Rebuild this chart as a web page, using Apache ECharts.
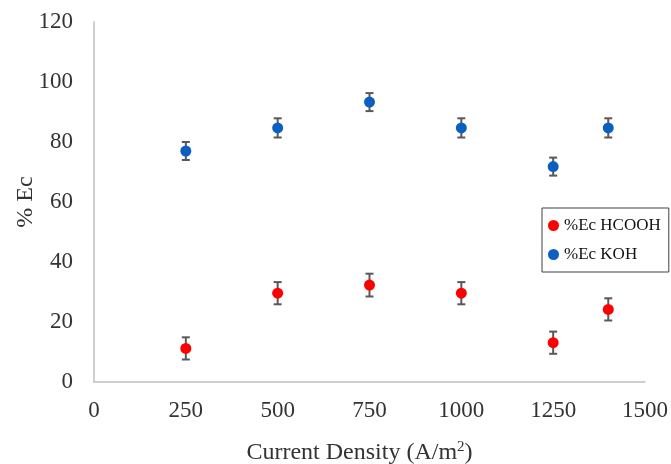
<!DOCTYPE html>
<html><head><meta charset="utf-8">
<script src="https://cdn.jsdelivr.net/npm/echarts@6/dist/echarts.min.js"></script>
<style>html,body{margin:0;padding:0;background:#fff}#c{width:671px;height:464px}</style>
</head><body><div id="c"></div>
<script>
const xValues = [250, 500, 750, 1000, 1250, 1400];
const hcoohValues = [11.2, 29.6, 32.3, 29.6, 13.1, 24.2];
const hcoohErr = [3.7, 3.7, 3.8, 3.7, 3.7, 3.7];
const kohValues = [77.0, 84.7, 93.3, 84.7, 71.8, 84.7];
const kohErr = [3.0, 3.2, 3.0, 3.2, 3.0, 3.2];
const seriesNames = ['%Ec HCOOH', '%Ec KOH'];

const font = 'Liberation Serif';
function pts(vals){ return xValues.map((x,i)=>[x, vals[i]]); }
function errData(vals, errs){ return xValues.map((x,i)=>[x, vals[i]-errs[i], vals[i]+errs[i]]); }
function errSeries(vals, errs){
  return {
    type: 'custom', silent: true, z: 1,
    data: errData(vals, errs),
    renderItem: function(params, api){
      const x = api.value(0);
      const lo = api.coord([x, api.value(1)]);
      const hi = api.coord([x, api.value(2)]);
      const w = 4;
      const st = {stroke:'#595959', lineWidth:2, fill:null};
      return {type:'group', children:[
        {type:'line', shape:{x1:lo[0],y1:lo[1],x2:hi[0],y2:hi[1]}, style:st},
        {type:'line', shape:{x1:lo[0]-w,y1:lo[1],x2:lo[0]+w,y2:lo[1]}, style:st},
        {type:'line', shape:{x1:hi[0]-w,y1:hi[1],x2:hi[0]+w,y2:hi[1]}, style:st}
      ]};
    }
  };
}
const chart = echarts.init(document.getElementById('c'));
chart.setOption({
  animation: false,
  textStyle: {fontFamily: font},
  grid: {left: 94, right: 26, top: 22, bottom: 82, outerBoundsMode: 'none', containLabel: false},
  legend: {
    data: seriesNames, orient: 'vertical', left: 542, top: 208,
    backgroundColor: '#fff',
    borderColor: '#404040', borderWidth: 1, padding: [9, 8, 9, 6],
    itemGap: 12, itemWidth: 11, itemHeight: 11, icon: 'circle',
    textStyle: {fontFamily: font, fontSize: 17, color: '#111'}
  },
  xAxis: {
    type: 'value', min: 0, max: 1500, interval: 250,
    name: 'Current Density (A/m{sup|2})', nameLocation: 'middle', nameGap: 58,
    nameTextStyle: {fontFamily: font, fontSize: 24, color: '#333', padding: [0, 20, 0, 0],
      rich:{sup:{fontSize:15, verticalAlign:'top', padding:[0,0,10,0], fontFamily:font, color:'#333'}}},
    axisLine: {lineStyle: {color: '#bfbfbf', width: 1.5}},
    axisTick: {show: false}, splitLine: {show: false},
    axisLabel: {fontFamily: font, fontSize: 23, color: '#333', margin: 17, formatter: v => String(v)}
  },
  yAxis: {
    type: 'value', min: 0, max: 120, interval: 20,
    name: '% Ec', nameLocation: 'middle', nameGap: 56, nameRotate: 90, nameMoveOverlap: false,
    nameTextStyle: {fontFamily: font, fontSize: 24, color: '#333'},
    axisLine: {show: true, lineStyle: {color: '#bfbfbf', width: 1.5}},
    axisTick: {show: false}, splitLine: {show: false},
    axisLabel: {fontFamily: font, fontSize: 23, color: '#333', margin: 21, formatter: v => String(v)}
  },
  series: [
    errSeries(hcoohValues, hcoohErr),
    errSeries(kohValues, kohErr),
    {name: seriesNames[0], type: 'scatter', z: 3, symbolSize: 11, itemStyle: {color: '#ff0000', opacity: 1}, data: pts(hcoohValues)},
    {name: seriesNames[1], type: 'scatter', z: 3, symbolSize: 11, itemStyle: {color: '#0a5fc0', opacity: 1}, data: pts(kohValues)}
  ]
});
</script></body></html>
